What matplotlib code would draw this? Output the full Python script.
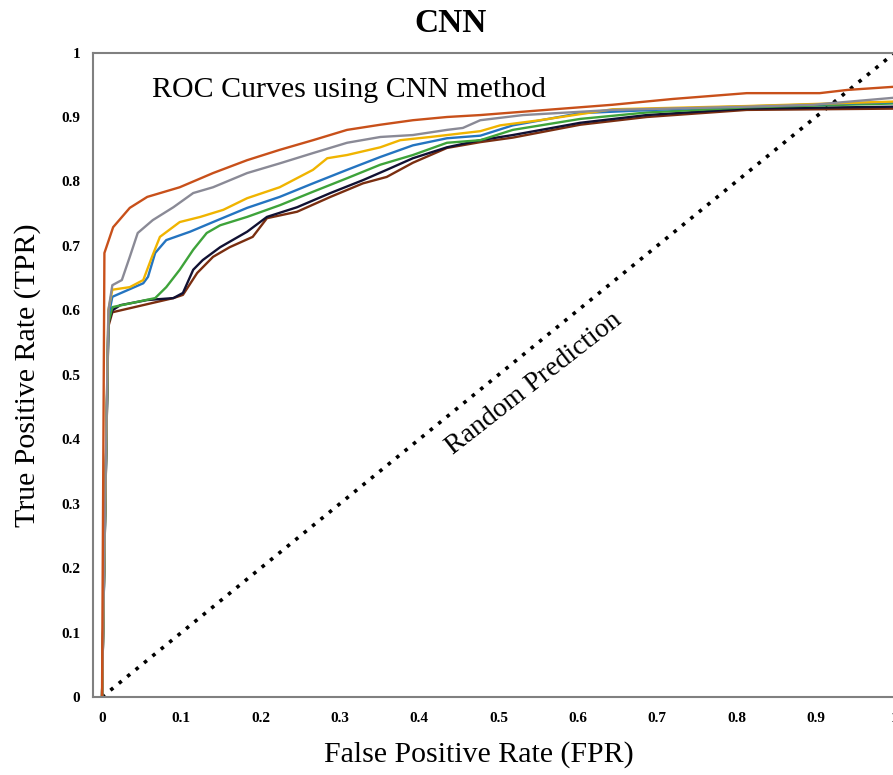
import matplotlib.pyplot as plt

plt.rcParams['font.family'] = 'Liberation Serif'

# ROC curves (FPR, TPR)
orange_x = [0, 0.003, 0.014, 0.035, 0.057, 0.098, 0.140, 0.183, 0.224, 0.266, 0.309, 0.351, 0.392,
            0.435, 0.477, 0.560, 0.644, 0.720, 0.813, 0.905, 0.940, 1.0]
orange_y = [0, 0.689, 0.729, 0.759, 0.776, 0.791, 0.813, 0.833, 0.849, 0.864, 0.880, 0.888, 0.895,
            0.900, 0.903, 0.911, 0.919, 0.928, 0.937, 0.937, 0.942, 0.947]

gray_x = [0, 0.008, 0.013, 0.025, 0.035, 0.045, 0.064, 0.090, 0.115, 0.140, 0.183, 0.224, 0.266,
          0.309, 0.351, 0.392, 0.435, 0.455, 0.477, 0.531, 0.644, 0.813, 0.897, 1.0]
gray_y = [0, 0.60, 0.639, 0.647, 0.683, 0.720, 0.740, 0.760, 0.782, 0.791, 0.813, 0.828, 0.844,
          0.860, 0.869, 0.872, 0.880, 0.883, 0.895, 0.903, 0.911, 0.916, 0.919, 0.930]

yellow_x = [0, 0.008, 0.013, 0.035, 0.052, 0.063, 0.073, 0.098, 0.124, 0.153, 0.183, 0.224, 0.266,
            0.284, 0.309, 0.351, 0.376, 0.414, 0.477, 0.502, 0.552, 0.644, 0.813, 1.0]
yellow_y = [0, 0.60, 0.632, 0.636, 0.647, 0.683, 0.714, 0.737, 0.745, 0.756, 0.774, 0.791, 0.818,
            0.836, 0.841, 0.853, 0.864, 0.869, 0.878, 0.887, 0.895, 0.912, 0.917, 0.924]

blue_x = [0, 0.008, 0.013, 0.026, 0.052, 0.058, 0.067, 0.081, 0.111, 0.140, 0.183, 0.224, 0.266,
          0.309, 0.351, 0.392, 0.435, 0.477, 0.518, 0.603, 0.771, 1.0]
blue_y = [0, 0.59, 0.621, 0.628, 0.642, 0.652, 0.689, 0.709, 0.722, 0.737, 0.759, 0.776, 0.797,
          0.818, 0.838, 0.856, 0.867, 0.871, 0.887, 0.906, 0.915, 0.923]

green_x = [0, 0.008, 0.013, 0.067, 0.081, 0.098, 0.115, 0.132, 0.149, 0.183, 0.224, 0.266, 0.309,
           0.351, 0.392, 0.435, 0.477, 0.518, 0.603, 0.687, 0.813, 1.0]
green_y = [0, 0.58, 0.605, 0.619, 0.636, 0.663, 0.694, 0.720, 0.732, 0.745, 0.763, 0.784, 0.805,
           0.826, 0.841, 0.860, 0.864, 0.880, 0.897, 0.907, 0.915, 0.921]

black_x = [0, 0.008, 0.013, 0.023, 0.057, 0.090, 0.102, 0.115, 0.127, 0.149, 0.183, 0.208, 0.246,
           0.288, 0.329, 0.359, 0.392, 0.435, 0.477, 0.518, 0.603, 0.687, 0.813, 1.0]
black_y = [0, 0.58, 0.600, 0.608, 0.616, 0.619, 0.627, 0.663, 0.678, 0.698, 0.722, 0.745, 0.760,
           0.782, 0.802, 0.818, 0.836, 0.853, 0.864, 0.872, 0.891, 0.903, 0.913, 0.916]

brown_x = [0, 0.008, 0.013, 0.090, 0.102, 0.120, 0.140, 0.161, 0.190, 0.208, 0.246, 0.288, 0.329,
           0.359, 0.392, 0.435, 0.477, 0.518, 0.603, 0.687, 0.813, 1.0]
brown_y = [0, 0.575, 0.597, 0.619, 0.624, 0.658, 0.683, 0.698, 0.714, 0.743, 0.753, 0.776, 0.797,
           0.807, 0.829, 0.852, 0.861, 0.868, 0.888, 0.900, 0.911, 0.913]

diag = [0, 1]
xticks = [0, 0.1, 0.2, 0.3, 0.4, 0.5, 0.6, 0.7, 0.8, 0.9, 1]
xtick_labels = ['0', '0.1', '0.2', '0.3', '0.4', '0.5', '0.6', '0.7', '0.8', '0.9', '1']
yticks = [0, 0.1, 0.2, 0.3, 0.4, 0.5, 0.6, 0.7, 0.8, 0.9, 1]
ytick_labels = ['0', '0.1', '0.2', '0.3', '0.4', '0.5', '0.6', '0.7', '0.8', '0.9', '1']

fig = plt.figure(figsize=(8.93, 7.75), dpi=100)
ax = fig.add_axes([0.1036, 0.1006, 0.9253, 0.8316])

ax.plot(diag, diag, color='black', linestyle=(0, (1, 2)), linewidth=2.6)

lw = 1.7
ax.plot(brown_x, brown_y, color='#7a2e10', linewidth=lw)
ax.plot(black_x, black_y, color='#111133', linewidth=lw)
ax.plot(green_x, green_y, color='#3ea33a', linewidth=lw)
ax.plot(blue_x, blue_y, color='#2474c0', linewidth=lw)
ax.plot(yellow_x, yellow_y, color='#f0b400', linewidth=lw)
ax.plot(gray_x, gray_y, color='#8a8a96', linewidth=lw)
ax.plot(orange_x, orange_y, color='#c8501a', linewidth=lw)

ax.set_xlim(-0.012, 1.03)
ax.set_ylim(0, 1)
ax.set_xticks(xticks)
ax.set_xticklabels(xtick_labels, fontweight='bold', fontsize=11)
ax.set_yticks(yticks)
ax.set_yticklabels(ytick_labels, fontweight='bold', fontsize=11)
ax.tick_params(axis='x', length=0, pad=11)
ax.tick_params(axis='y', length=0, pad=9)
for s in ax.spines.values():
    s.set_color('#808080')
    s.set_linewidth(1.5)

ax.text(0.063, 0.942, 'ROC Curves using CNN method', fontsize=21.5, ha='left', va='center')
ax.text(0.544, 0.487, 'Random Prediction', fontsize=20, rotation=38, ha='center', va='center')

fig.text(451 / 893, 1 - 23 / 775, 'CNN', fontsize=24, fontweight='bold', ha='center', va='center')
fig.text(479 / 893, 1 - 755 / 775, 'False Positive Rate (FPR)', fontsize=21.5, ha='center', va='center')
fig.text(28 / 893, 1 - 375 / 775, 'True Positive Rate (TPR)', fontsize=21.5, rotation=90,
         ha='center', va='center')

fig.savefig('out.png', dpi=100)
